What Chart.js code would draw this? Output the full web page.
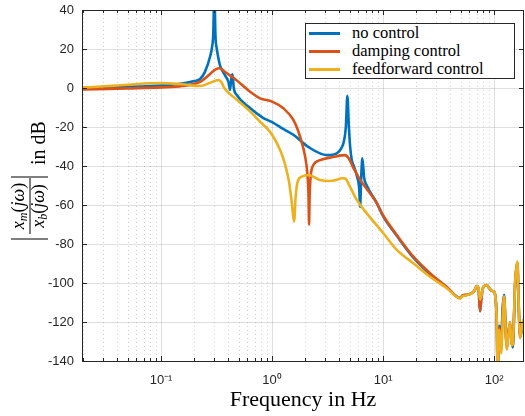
<!DOCTYPE html>
<html>
<head>
<meta charset="utf-8">
<script src="https://cdn.jsdelivr.net/npm/chart.js@4.4.1/dist/chart.umd.min.js"></script>
<style>
  body { margin: 0; background: #fff; }
  #wrap { position: relative; width: 525px; height: 416px; }
  #legend {
    position: absolute; left: 305px; top: 23px; width: 210px; height: 56px;
    border: 1px solid #262626; background: #fff; box-sizing: border-box;
    font-family: "Liberation Serif", "DejaVu Serif", serif; font-size: 16.5px; color: #000;
  }
  #legend .row { height: 18.2px; display: flex; align-items: center; white-space: nowrap; }
  #legend .swatch { width: 31px; height: 3px; margin-left: 3px; margin-right: 12px; }
</style>
</head>
<body>
<div id="wrap">
  <canvas id="bodeChart" width="525" height="416"></canvas>
  <div id="legend"></div>
</div>
<script>
// Series names and colours
const seriesNames = ['no control', 'damping control', 'feedforward control'];
const seriesColors = ['#0072BD', '#D95319', '#EDB120'];

// no control (Hz / dB)
const freqNoControl = [0.0194, 0.03, 0.05, 0.1, 0.155, 0.2, 0.2245, 0.249, 0.2763, 0.288, 0.2955, 0.302, 0.309, 0.318, 0.328, 0.34,
  0.3772, 0.405, 0.418, 0.43, 0.44, 0.452, 0.481, 0.633, 0.835, 1.0, 1.26, 1.555, 2.154, 3.111, 3.827, 4.2, 4.45, 4.62, 4.769,
  4.92, 5.05, 5.224, 5.45, 5.8, 6.1, 6.205, 6.35, 6.51, 6.75, 7.132, 8.774, 10.06, 13.29, 18.75, 26.51, 37.49, 49.39];
const magNoControl = [0, 0.3, 0.6, 1.3, 2.3, 3.6, 4.6, 8.4, 16, 21, 28, 50, 27, 20, 15.5, 11.5,
  6.5, 3, -1, 5, 7, 0, -3.6, -10.3, -15.4, -17.5, -21, -24, -30.5, -34.4, -33.5, -31, -27, -20, -4,
  -20, -30, -37, -40, -45, -52, -61, -46, -36, -46, -50, -59, -66, -75.8, -87, -95.5, -102.3, -107.6];

// damping control
const freqDamping = [0.0194, 0.05, 0.1, 0.155, 0.2245, 0.2763, 0.31, 0.34, 0.3772, 0.4546, 0.6334, 0.7796, 1.0, 1.264, 1.555,
  1.788, 1.983, 2.08, 2.13, 2.154, 2.18, 2.23, 2.356, 2.707, 3.544, 4.547, 4.9, 5.4, 6.2, 8.774, 10.06, 13.29, 18.75, 26.51,
  37.49, 49.39];
const magDamping = [-0.8, -0.2, 0.3, 1.0, 3.2, 7.2, 9.6, 10.1, 8.2, 5, -1.9, -5.3, -7, -10.4, -16.4,
  -25, -35, -44, -55, -70, -55, -45, -39.5, -37, -35.4, -34.4, -36, -41, -47, -59, -65.5, -75.4, -86.5, -95,
  -102, -107.8];

// feedforward control
const freqFeedforward = [0.0194, 0.0385, 0.0779, 0.1, 0.1546, 0.2245, 0.2763, 0.3283, 0.35, 0.371, 0.4808, 0.6334, 0.7796,
  0.9, 1.0, 1.181, 1.3, 1.42, 1.5, 1.578, 1.63, 1.7, 1.852, 2.12, 2.707, 3.331, 4.388, 4.6, 4.869, 5.797, 7.132, 10.06, 13.29,
  18.75, 26.51, 37.49, 49.39];
const magFeedforward = [0.2, 1.2, 2.4, 2.5, 1.9, 1.0, 2.7, 4.1, 3, 0, -6, -12, -17.3,
  -20.7, -24, -31.8, -38.5, -48, -58, -68.5, -56, -48, -45.5, -44.6, -47.2, -47.7, -46.3, -46.5, -49, -57.4, -64.3, -74.5, -83,
  -89.9, -96.8, -102.7, -107.8];

// high frequency part (measurement noise), shared frequencies
const freqTail = [52, 57, 62, 66.5, 69.87, 72.5, 74.79, 77, 80.1, 85.95, 90, 95.34, 100, 102.1, 105.8, 107.6, 111.6, 115.9,
  119.7, 123.1, 127.2, 130.2, 133.8, 139.4, 144.1, 147.4, 151.6, 154.6, 158.9, 162.2, 166.4, 171.5, 176.9, 183.6, 186];
const tailNoControl = [-106.5, -106, -105.5, -104, -101.5, -103, -114.5, -107, -102, -101, -102.5, -104, -104.5, -106, -120,
  -145, -122, -128, -112, -106, -124, -132, -126, -121, -130, -133, -116, -101, -93, -90, -111, -127, -125, -120, -122];
const tailDamping = [-106.5, -106, -105.5, -104, -101.5, -103, -114.5, -107, -102, -101, -102.5, -104, -104.5, -106, -120,
  -145, -123, -130, -114, -107, -125, -134, -127, -120, -131, -132, -115, -100, -92, -89.5, -110, -128, -124, -119, -122];
const tailFeedforward = [-106.8, -106.2, -105.5, -104, -101.5, -103, -108.5, -106, -102, -101, -102.5, -104, -104.5, -106, -120,
  -145, -124, -136, -118, -107, -125, -134, -128, -120, -132, -131, -115, -100, -92, -89, -110, -128, -124, -119, -122];

// x tick labels at decades
const decadeLabels = { '-1': '10\u207B\u00B9', '0': '10\u2070', '1': '10\u00B9', '2': '10\u00B2' };

const xMin = 0.0194, xMax = 186;

function toPoints(f, m) {
  return f.map((v, i) => ({ x: v, y: m[i] }));
}

const ink = '#262626';

// minor dotted grid, box, inward ticks
const frame = {
  id: 'frame',
  beforeDatasetsDraw(chart) {
    const { ctx, chartArea: a, scales: { x } } = chart;
    ctx.save();
    ctx.strokeStyle = 'rgba(38,38,38,0.2)';
    ctx.lineWidth = 1;
    ctx.setLineDash([1, 3]);
    x.ticks.forEach(t => {
      if (t.major) return;
      const px = Math.round(x.getPixelForValue(t.value)) + 0.5;
      ctx.beginPath(); ctx.moveTo(px, a.top); ctx.lineTo(px, a.bottom); ctx.stroke();
    });
    ctx.restore();
  },
  afterDatasetsDraw(chart) {
    const { ctx, chartArea: a, scales: { x, y } } = chart;
    ctx.save();
    ctx.strokeStyle = ink;
    ctx.lineWidth = 1;
    ctx.beginPath();
    x.ticks.forEach(t => {
      const px = Math.round(x.getPixelForValue(t.value)) + 0.5;
      const len = t.major ? 5 : 3;
      ctx.moveTo(px, a.bottom); ctx.lineTo(px, a.bottom - len);
      ctx.moveTo(px, a.top); ctx.lineTo(px, a.top + len);
    });
    y.ticks.forEach(t => {
      const py = Math.round(y.getPixelForValue(t.value)) + 0.5;
      ctx.moveTo(a.left, py); ctx.lineTo(a.left + 5, py);
      ctx.moveTo(a.right, py); ctx.lineTo(a.right - 5, py);
    });
    ctx.stroke();
    ctx.strokeRect(Math.round(a.left) + 0.5, Math.round(a.top) + 0.5,
      Math.round(a.right - a.left) - 1, Math.round(a.bottom - a.top));
    ctx.restore();
  }
};

// |x_m(jw) / x_b(jw)| in dB, rotated
function drawRun(c, parts, centerU, v) {
  let total = 0;
  parts.forEach(p => { c.font = p.f; p.w = c.measureText(p.t).width; total += p.w; });
  let u = centerU - total / 2;
  parts.forEach(p => { c.font = p.f; c.fillText(p.t, u, v + (p.dv || 0)); u += p.w; });
}
const serif = '"Liberation Serif", "DejaVu Serif", serif';
const yTitle = {
  id: 'yTitle',
  afterDraw(chart) {
    const c = chart.ctx;
    c.save();
    c.rotate(-Math.PI / 2);
    c.fillStyle = '#000';
    c.strokeStyle = '#000';
    c.textBaseline = 'alphabetic';
    c.textAlign = 'left';
    c.font = '20px ' + serif;
    c.fillText('in dB', -165, 45);
    const it = 'italic 18px ' + serif, up = '18px ' + serif, sub = 'italic 12px ' + serif;
    drawRun(c, [{ t: 'x', f: it }, { t: 'm', f: sub, dv: 3 }, { t: '(', f: up }, { t: 'j', f: it }, { t: 'ω', f: it }, { t: ')', f: up }], -206, 24);
    drawRun(c, [{ t: 'x', f: it }, { t: 'b', f: sub, dv: 3 }, { t: '(', f: up }, { t: 'j', f: it }, { t: 'ω', f: it }, { t: ')', f: up }], -206, 44);
    c.lineWidth = 1;
    c.beginPath();
    c.moveTo(-234, 30); c.lineTo(-178, 30);
    c.moveTo(-177, 11); c.lineTo(-177, 48);
    c.moveTo(-239, 11); c.lineTo(-239, 48);
    c.stroke();
    c.restore();
  }
};

const ctx1 = document.getElementById('bodeChart').getContext('2d');
const bodeChart = new Chart(ctx1, {
  type: 'line',
  data: {
    datasets: [
      { label: seriesNames[0], data: toPoints(freqNoControl.concat(freqTail), magNoControl.concat(tailNoControl)), borderColor: seriesColors[0], order: 3 },
      { label: seriesNames[1], data: toPoints(freqDamping.concat(freqTail), magDamping.concat(tailDamping)), borderColor: seriesColors[1], order: 2 },
      { label: seriesNames[2], data: toPoints(freqFeedforward.concat(freqTail), magFeedforward.concat(tailFeedforward)), borderColor: seriesColors[2], order: 1 }
    ]
  },
  options: {
    responsive: false,
    animation: false,
    layout: { padding: { top: 10, right: 1, left: 0, bottom: 0 } },
    elements: {
      point: { radius: 0 },
      line: { borderWidth: 2.6, cubicInterpolationMode: 'monotone', borderCapStyle: 'round', borderJoinStyle: 'round' }
    },
    plugins: { legend: { display: false }, tooltip: { enabled: false } },
    scales: {
      x: {
        type: 'logarithmic',
        min: xMin,
        max: xMax,
        afterFit: s => { s.height = 55; s.paddingLeft = 0; s.paddingRight = 0; },
        afterBuildTicks: s => {
          const ticks = [];
          for (let k = -2; k <= 2; k++) {
            for (let m = 1; m <= 9; m++) {
              const v = m * Math.pow(10, k);
              if (v >= xMin && v <= xMax) ticks.push({ value: v, major: m === 1 });
            }
          }
          s.ticks = ticks;
        },
        ticks: {
          autoSkip: false,
          maxRotation: 0,
          padding: 12,
          color: ink,
          font: { family: '"Liberation Sans", Arial, sans-serif', size: 13 },
          callback: v => {
            const e = Math.round(Math.log10(v));
            return Math.abs(Math.log10(v) - e) < 1e-9 ? (decadeLabels[e] || '') : '';
          }
        },
        grid: {
          drawTicks: false,
          color: c => (c.tick && c.tick.major ? 'rgba(38,38,38,0.15)' : 'rgba(0,0,0,0)')
        },
        border: { display: false },
        title: {
          display: true,
          text: 'Frequency in Hz',
          color: '#000',
          font: { family: serif, size: 22 },
          padding: { top: 0, bottom: 3 }
        }
      },
      y: {
        min: -140,
        max: 40,
        afterFit: s => { s.width = 82; s.paddingTop = 0; s.paddingBottom = 0; },
        ticks: {
          stepSize: 20,
          padding: 8,
          color: ink,
          font: { family: '"Liberation Sans", Arial, sans-serif', size: 13 }
        },
        grid: { drawTicks: false, color: 'rgba(38,38,38,0.15)' },
        border: { display: false }
      }
    }
  },
  plugins: [frame, yTitle]
});

// legend inside the axes
const legendBox = document.getElementById('legend');
seriesNames.forEach((name, i) => {
  const row = document.createElement('div');
  row.className = 'row';
  const sw = document.createElement('span');
  sw.className = 'swatch';
  sw.style.background = seriesColors[i];
  const tx = document.createElement('span');
  tx.textContent = name;
  row.appendChild(sw);
  row.appendChild(tx);
  legendBox.appendChild(row);
});
</script>
</body>
</html>
